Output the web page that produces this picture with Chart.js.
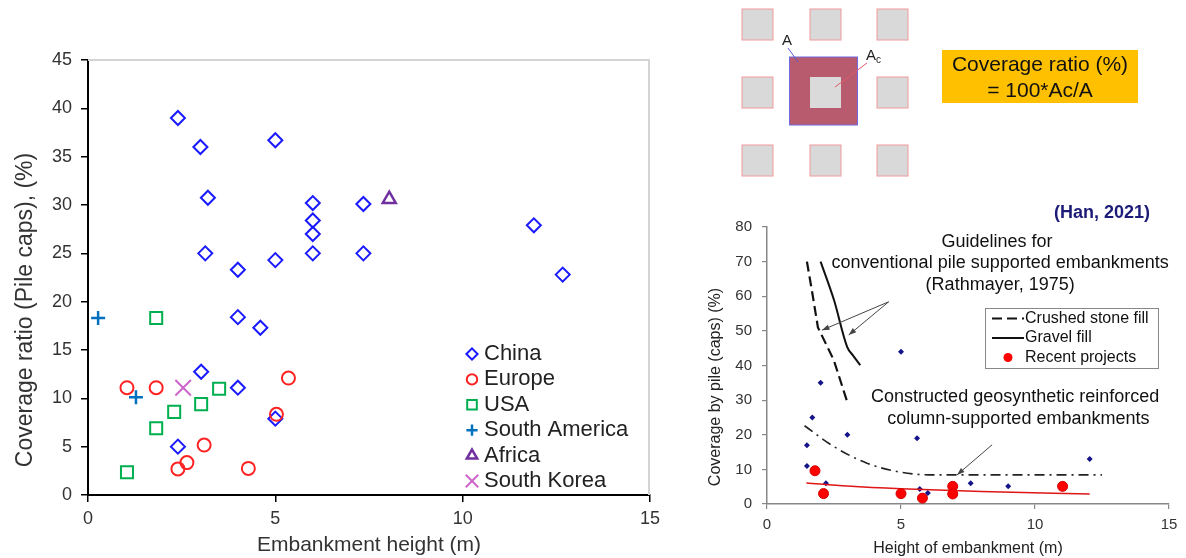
<!DOCTYPE html>
<html>
<head>
<meta charset="utf-8">
<script src="https://cdn.jsdelivr.net/npm/chart.js@4.4.1/dist/chart.umd.min.js"></script>
<style>
    body { margin: 0; background: #fff; }
    #page { position: relative; width: 1186px; height: 558px; overflow: hidden; font-family: 'Liberation Sans', Arial, sans-serif; }
    #coverage-chart { position: absolute; left: 0; top: 0; }
    #height-chart { position: absolute; left: 690px; top: 195px; }
    #sketch { position: absolute; left: 0; top: 0; }
</style>
</head>
<body>
<div id="page">
    <canvas id="coverage-chart" width="680" height="558"></canvas>
    <canvas id="height-chart" width="496" height="363"></canvas>
    <svg id="sketch" width="1186" height="195" font-family="Liberation Sans, Arial, sans-serif">
        <rect x="742" y="9" width="31" height="31" fill="#d9d9d9" stroke="#f19a9a"/>
        <rect x="810" y="9" width="31" height="31" fill="#d9d9d9" stroke="#f19a9a"/>
        <rect x="877" y="9" width="31" height="31" fill="#d9d9d9" stroke="#f19a9a"/>
        <rect x="742" y="77" width="31" height="31" fill="#d9d9d9" stroke="#f19a9a"/>
        <rect x="877" y="77" width="31" height="31" fill="#d9d9d9" stroke="#f19a9a"/>
        <rect x="742" y="145" width="31" height="31" fill="#d9d9d9" stroke="#f19a9a"/>
        <rect x="810" y="145" width="31" height="31" fill="#d9d9d9" stroke="#f19a9a"/>
        <rect x="877" y="145" width="31" height="31" fill="#d9d9d9" stroke="#f19a9a"/>
        <rect x="789.5" y="57" width="68" height="68" fill="#b85b6e" stroke="#7068e0"/>
        <rect x="810" y="77" width="31" height="31" fill="#dadada"/>
        <line x1="788" y1="48" x2="798" y2="62" stroke="#5a5ad8"/>
        <line x1="867" y1="63" x2="835" y2="87" stroke="#e25a6c"/>
        <text x="787" y="45" font-size="15" fill="#222" text-anchor="middle">A</text>
        <text x="866" y="60" font-size="15" fill="#222">A<tspan font-size="10" dy="3">c</tspan></text>
        <rect x="942" y="50" width="196" height="53" fill="#ffc000"/>
        <text x="1040" y="71" font-size="21" fill="#111" text-anchor="middle">Coverage ratio (%)</text>
        <text x="1040" y="97" font-size="21" fill="#111" text-anchor="middle">= 100*Ac/A</text>
    </svg>
</div>
<script>
// left chart: coverage ratio of pile caps by region, [height m, ratio %]
const china = [[2.4, 39.0], [3.0, 36.0], [5.0, 36.7], [3.2, 30.75], [6.0, 30.2], [7.35, 30.1], [6.0, 28.4],
    [6.0, 27.0], [3.13, 25.0], [4.0, 23.3], [5.0, 24.3], [6.0, 25.0], [7.35, 25.0], [11.9, 27.9],
    [12.67, 22.8], [4.0, 18.4], [4.6, 17.3], [3.02, 12.75], [4.0, 11.1], [2.4, 5.0], [5.0, 7.9]]
const europe = [[1.04, 11.1], [1.82, 11.1], [5.35, 12.1], [5.03, 8.35], [3.1, 5.17], [2.4, 2.7], [2.64, 3.35], [4.28, 2.75]]
const usa = [[1.82, 18.3], [3.5, 11.0], [3.02, 9.4], [2.3, 8.6], [1.82, 6.9], [1.04, 2.35]]
const southAmerica = [[0.27, 18.3], [1.28, 10.1]]
const africa = [[8.04, 30.6]]
const southKorea = [[2.54, 11.1]]

// right chart (Han, 2021)
const crushedStone = [[1.49, 70], [1.7, 60.5], [1.9, 51], [2.49, 41.6], [2.99, 29.6]]
const gravel = [[2.0, 70], [2.5, 58.9], [2.99, 45.4], [3.2, 43.0], [3.48, 40.1]]
const geoTrend = [[1.4, 22.6], [2.49, 16.6], [3.73, 11.8], [4.97, 9.2], [6.2, 8.4], [12.5, 8.4]]
const recentTrend = [[1.47, 6.1], [3, 5.2], [5, 4.4], [8, 3.6], [12.04, 2.9]]
const earlierProjects = [[5.0, 44], [2.0, 35], [1.69, 25], [1.49, 17], [3.0, 20], [5.6, 19], [1.49, 11],
    [2.2, 6], [5.7, 4.3], [6.0, 3.2], [7.6, 6], [9.0, 5.1], [12.04, 13]]
const recentProjects = [[1.79, 9.6], [2.11, 3.0], [5.0, 3.0], [5.8, 1.7], [6.93, 5.1], [6.93, 2.9], [11.03, 5.1]]

const heightTicks = [0, 5, 10, 15]
const keyEntries = ['Crushed stone fill', 'Gravel fill', 'Recent projects']

Chart.defaults.font.family = "'Liberation Sans', Arial, sans-serif"
Chart.defaults.color = '#333'

// light grey frame on top and right of the plot
const frame = {
    id: 'frame',
    beforeDatasetsDraw(chart) {
        const {ctx, chartArea: a} = chart
        ctx.save()
        ctx.strokeStyle = '#d4d4d4'
        ctx.lineWidth = 2
        ctx.beginPath()
        ctx.moveTo(a.left, a.top)
        ctx.lineTo(a.right - 1, a.top)
        ctx.lineTo(a.right - 1, a.bottom)
        ctx.stroke()
        ctx.restore()
    }
}

// rotated y title, set a bit below the middle of the axis as in the source
const sideTitle = {
    id: 'sideTitle',
    afterDraw(chart, args, o) {
        const ctx = chart.ctx
        ctx.save()
        ctx.translate(o.x, o.y)
        ctx.rotate(-Math.PI / 2)
        ctx.font = o.font
        ctx.fillStyle = o.color
        ctx.textAlign = 'center'
        ctx.textBaseline = 'middle'
        ctx.fillText(o.text, 0, 0)
        ctx.restore()
    }
}

// legend drawn inside the plot area
const insideLegend = {
    id: 'insideLegend',
    afterDraw(chart, args, o) {
        const ctx = chart.ctx
        ctx.save()
        ctx.font = o.font
        ctx.textBaseline = 'middle'
        chart.data.datasets.forEach((ds, i) => {
            const y = o.y + i * o.step
            ctx.strokeStyle = ds.borderColor
            ctx.fillStyle = 'rgba(0,0,0,0)'
            ctx.lineWidth = ds.borderWidth
            Chart.helpers.drawPoint(ctx, {
                pointStyle: ds.pointStyle, rotation: 0,
                radius: ds.pointRadius * 0.8, borderWidth: ds.borderWidth
            }, o.x, y)
            ctx.fillStyle = '#222'
            ctx.fillText(ds.label, o.textX, y)
        })
        ctx.restore()
    }
}

new Chart(document.getElementById('coverage-chart'), {
    type: 'scatter',
    data: {
        datasets: [
            { label: 'China', data: china, pointStyle: 'rectRot', pointRadius: 7, borderColor: '#1a1aff', borderWidth: 2, backgroundColor: 'rgba(0,0,0,0)', order: 1 },
            { label: 'Europe', data: europe, pointStyle: 'circle', pointRadius: 6.5, borderColor: '#ff2222', borderWidth: 2, backgroundColor: 'rgba(0,0,0,0)' },
            { label: 'USA', data: usa, pointStyle: 'rect', pointRadius: 8.5, borderColor: '#00b050', borderWidth: 2, backgroundColor: 'rgba(0,0,0,0)' },
            { label: 'South America', data: southAmerica, pointStyle: 'cross', pointRadius: 7, borderColor: '#0070c0', borderWidth: 2.5 },
            { label: 'Africa', data: africa, pointStyle: 'triangle', pointRadius: 7.5, borderColor: '#7030a0', borderWidth: 2.5, backgroundColor: 'rgba(0,0,0,0)' },
            { label: 'South Korea', data: southKorea, pointStyle: 'crossRot', pointRadius: 11, borderColor: '#cc66cc', borderWidth: 2 }
        ]
    },
    options: {
        responsive: false,
        animation: false,
        events: [],
        layout: { padding: { top: 60, right: 30, left: 0, bottom: 0 } },
        plugins: {
            legend: { display: false },
            tooltip: { enabled: false },
            insideLegend: { x: 472, textX: 484, y: 354, step: 25.4, font: "22px 'Liberation Sans', Arial, sans-serif" },
            sideTitle: { text: 'Coverage ratio (Pile caps), (%)', x: 26, y: 310, color: '#333', font: "23px 'Liberation Sans', Arial, sans-serif" }
        },
        scales: {
            x: {
                min: 0, max: 15,
                afterBuildTicks: s => { s.ticks = heightTicks.map(v => ({ value: v })) },
                ticks: { padding: 6, font: { size: 18 }, color: '#333' },
                grid: { drawOnChartArea: false, tickLength: 7, color: '#000', lineWidth: 1.5 },
                border: { color: '#000', width: 2 },
                title: { display: true, text: 'Embankment height (m)', font: { size: 21 }, color: '#333', padding: { top: 0, bottom: 0 } },
                afterFit: s => { s.height = 63 }
            },
            y: {
                min: 0, max: 45,
                ticks: { stepSize: 5, padding: 9, font: { size: 18 }, color: '#333' },
                grid: { drawOnChartArea: false, tickLength: 7, color: '#000', lineWidth: 1.5 },
                border: { color: '#000', width: 2 },
                afterFit: s => { s.width = 88 }
            }
        }
    },
    plugins: [frame, insideLegend, sideTitle]
})

// notes and arrows of the right chart, placed in data units
const notes = [
    { text: 'Guidelines for', x: 8.58, y: 75.7 },
    { text: 'conventional pile supported embankments', x: 8.7, y: 69.5 },
    { text: '(Rathmayer, 1975)', x: 8.7, y: 63.2 },
    { text: 'Constructed geosynthetic reinforced', x: 9.26, y: 31.0 },
    { text: 'column-supported embankments', x: 9.38, y: 24.6 }
]
const arrows = [[4.54, 58.4, 2.05, 50.2], [4.54, 58.4, 3.05, 48.8], [8.4, 17.1, 7.09, 8.4]]

const annotations = {
    id: 'annotations',
    afterDraw(chart, args, o) {
        const {ctx, scales: {x, y}} = chart
        ctx.save()
        ctx.fillStyle = '#111'
        ctx.font = "18px 'Liberation Sans', Arial, sans-serif"
        ctx.textAlign = 'center'
        ctx.textBaseline = 'middle'
        notes.forEach(n => ctx.fillText(n.text, x.getPixelForValue(n.x), y.getPixelForValue(n.y)))
        ctx.font = "bold 18px 'Liberation Sans', Arial, sans-serif"
        ctx.fillStyle = '#1c1c78'
        ctx.fillText('(Han, 2021)', x.getPixelForValue(12.5), y.getPixelForValue(84))

        ctx.strokeStyle = '#444'
        ctx.fillStyle = '#444'
        ctx.lineWidth = 1
        arrows.forEach(([x0, y0, x1, y1]) => {
            const ax = x.getPixelForValue(x0), ay = y.getPixelForValue(y0)
            const bx = x.getPixelForValue(x1), by = y.getPixelForValue(y1)
            const ang = Math.atan2(by - ay, bx - ax)
            ctx.beginPath()
            ctx.moveTo(ax, ay)
            ctx.lineTo(bx, by)
            ctx.stroke()
            ctx.beginPath()
            ctx.moveTo(bx, by)
            ctx.lineTo(bx - 8 * Math.cos(ang - 0.35), by - 8 * Math.sin(ang - 0.35))
            ctx.lineTo(bx - 8 * Math.cos(ang + 0.35), by - 8 * Math.sin(ang + 0.35))
            ctx.closePath()
            ctx.fill()
        })

        // boxed key
        const k = o.key
        ctx.strokeStyle = '#888'
        ctx.strokeRect(k.x + 0.5, k.y + 0.5, k.w, k.h)
        ctx.font = "16px 'Liberation Sans', Arial, sans-serif"
        ctx.textAlign = 'left'
        let row = 0
        chart.data.datasets.forEach(ds => {
            if (!keyEntries.includes(ds.label)) return
            const cy = k.y + k.first + row * k.step
            if (ds.showLine) {
                ctx.setLineDash(ds.borderDash || [])
                ctx.strokeStyle = ds.borderColor
                ctx.lineWidth = ds.borderWidth
                ctx.beginPath()
                ctx.moveTo(k.x + 7, cy)
                ctx.lineTo(k.x + 39, cy)
                ctx.stroke()
                ctx.setLineDash([])
            } else {
                ctx.fillStyle = ds.backgroundColor
                ctx.beginPath()
                ctx.arc(k.x + 23, cy, 4.5, 0, 2 * Math.PI)
                ctx.fill()
            }
            ctx.fillStyle = '#111'
            ctx.fillText(ds.label, k.x + 40, cy)
            row++
        })
        ctx.restore()
    }
}

new Chart(document.getElementById('height-chart'), {
    type: 'scatter',
    data: {
        datasets: [
            { label: 'Crushed stone fill', data: crushedStone, showLine: true, borderColor: '#111', borderWidth: 2.2, borderDash: [10, 5], pointRadius: 0 },
            { label: 'Gravel fill', data: gravel, showLine: true, borderColor: '#111', borderWidth: 2, pointRadius: 0, cubicInterpolationMode: 'monotone' },
            { label: 'Recent projects', data: recentProjects, pointStyle: 'circle', pointRadius: 5, backgroundColor: '#ff0000', borderColor: '#d40000', borderWidth: 1 },
            { label: 'Constructed GRCS embankments', data: geoTrend, showLine: true, borderColor: '#222', borderWidth: 1.6, borderDash: [10, 5, 2, 5], pointRadius: 0, cubicInterpolationMode: 'monotone' },
            { label: 'Recent trend', data: recentTrend, showLine: true, borderColor: '#e01515', borderWidth: 1.5, pointRadius: 0, cubicInterpolationMode: 'monotone' },
            { label: 'Earlier projects', data: earlierProjects, pointStyle: 'rectRot', pointRadius: 3, backgroundColor: '#14148a', borderColor: '#14148a', borderWidth: 0 }
        ]
    },
    options: {
        responsive: false,
        animation: false,
        events: [],
        layout: { padding: { top: 32, right: 17, left: 0, bottom: 0 } },
        plugins: {
            legend: { display: false },
            tooltip: { enabled: false },
            annotations: { key: { x: 295, y: 113, w: 173, h: 60, first: 10.5, step: 19.5 } },
            sideTitle: { text: 'Coverage by pile (caps) (%)', x: 26, y: 192, color: '#222', font: "16px 'Liberation Sans', Arial, sans-serif" }
        },
        scales: {
            x: {
                min: 0, max: 15,
                afterBuildTicks: s => { s.ticks = heightTicks.map(v => ({ value: v })) },
                ticks: { padding: 7, font: { size: 15 }, color: '#333' },
                grid: { drawOnChartArea: false, tickLength: 5, color: '#888', lineWidth: 1.2 },
                border: { color: '#888', width: 1.5 },
                title: { display: true, text: 'Height of embankment (m)', font: { size: 16 }, color: '#222', padding: { top: 3, bottom: 0 } },
                afterFit: s => { s.height = 54 }
            },
            y: {
                min: 0, max: 80,
                ticks: { stepSize: 10, padding: 10, font: { size: 15 }, color: '#333' },
                grid: { drawOnChartArea: false, tickLength: 5, color: '#888', lineWidth: 1.2 },
                border: { color: '#888', width: 1.5 },
                afterFit: s => { s.width = 77 }
            }
        }
    },
    plugins: [annotations, sideTitle]
})
</script>
</body>
</html>
